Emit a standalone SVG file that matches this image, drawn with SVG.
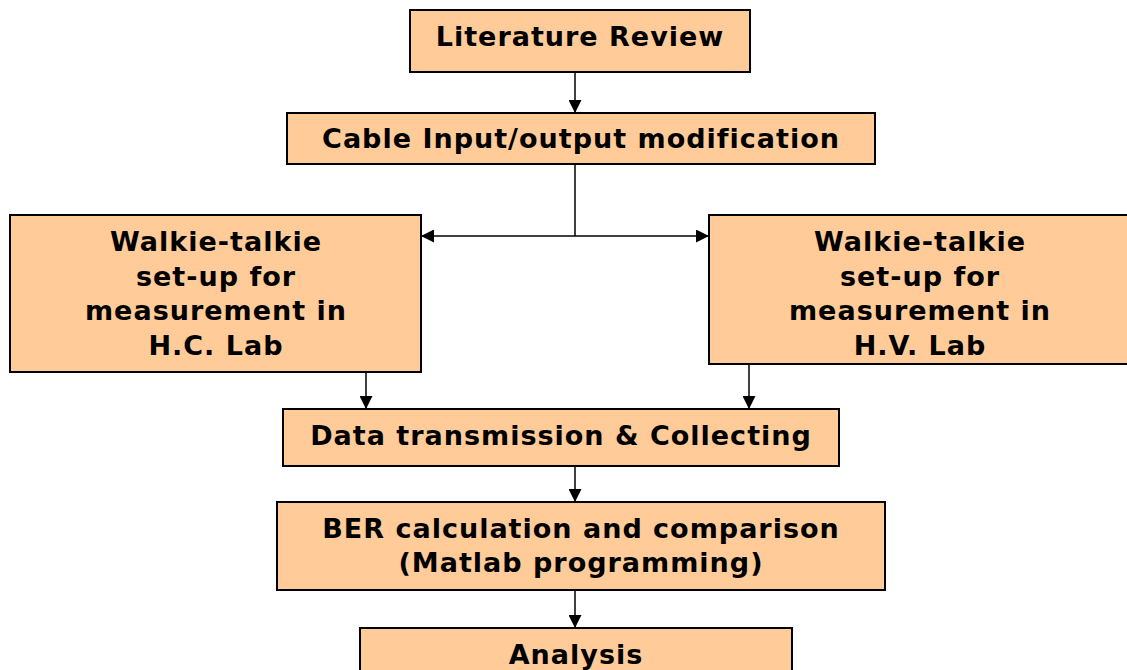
<svg xmlns="http://www.w3.org/2000/svg" width="1127" height="670" viewBox="0 0 1127 670">
<defs>
<marker id="ah" viewBox="0 0 10 10" refX="10" refY="5" markerWidth="14" markerHeight="13" markerUnits="userSpaceOnUse" orient="auto">
<path d="M0,0 L10,5 L0,10 z" fill="#000"/>
</marker>
<style>
.box{fill:#FFCC99;stroke:#000;stroke-width:2}
.t{font-family:"DejaVu Sans",Verdana,sans-serif;font-weight:bold;font-size:27px;letter-spacing:1px;fill:#000;text-anchor:middle}
.c{stroke:#000;stroke-width:1.5;fill:none}
</style>
</defs>
<rect width="1127" height="670" fill="#fff"/>
<g id="n1"><rect class="box" x="410" y="10" width="340" height="62"/><text class="t" x="580" y="46">Literature Review</text></g>
<g id="n2"><rect class="box" x="287" y="113" width="588" height="51"/><text class="t" x="581" y="148">Cable Input/output modification</text></g>
<g id="n3"><rect class="box" x="10" y="215" width="411" height="157"/>
<text class="t" x="216" y="251">Walkie-talkie</text><text class="t" x="216" y="286">set-up for</text><text class="t" x="216" y="320">measurement in</text><text class="t" x="216" y="355">H.C. Lab</text></g>
<g id="n4"><rect class="box" x="709" y="215" width="425" height="149"/>
<text class="t" x="920" y="251">Walkie-talkie</text><text class="t" x="920" y="286">set-up for</text><text class="t" x="920" y="320">measurement in</text><text class="t" x="920" y="355">H.V. Lab</text></g>
<g id="n5"><rect class="box" x="283" y="409" width="556" height="57"/><text class="t" x="561" y="445">Data transmission &amp; Collecting</text></g>
<g id="n6"><rect class="box" x="277" y="502" width="608" height="88"/><text class="t" x="581" y="538">BER calculation and comparison</text><text class="t" x="581" y="572">(Matlab programming)</text></g>
<g id="n7"><rect class="box" x="360" y="628" width="432" height="60"/><text class="t" x="576" y="664">Analysis</text></g>
<g id="connectors">
<line class="c" x1="575" y1="72" x2="575" y2="113" marker-end="url(#ah)"/>
<line class="c" x1="575" y1="164" x2="575" y2="236"/>
<line class="c" x1="575" y1="236" x2="421" y2="236" marker-end="url(#ah)"/>
<line class="c" x1="575" y1="236" x2="709" y2="236" marker-end="url(#ah)"/>
<line class="c" x1="366" y1="372" x2="366" y2="409" marker-end="url(#ah)"/>
<line class="c" x1="749" y1="364" x2="749" y2="409" marker-end="url(#ah)"/>
<line class="c" x1="575" y1="466" x2="575" y2="502" marker-end="url(#ah)"/>
<line class="c" x1="575" y1="590" x2="575" y2="628" marker-end="url(#ah)"/>
</g>
</svg>
